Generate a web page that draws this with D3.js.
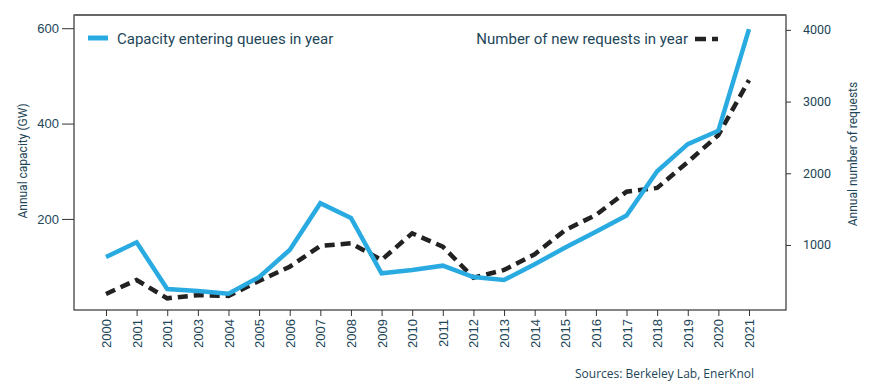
<!DOCTYPE html>
<html>
<head>
<meta charset="utf-8">
<script src="https://cdn.jsdelivr.net/npm/d3@7"></script>
<style>
  body { margin: 0; background: #fff; }
  svg { display: block; font-family: Roboto, "Liberation Sans", sans-serif; }
</style>
</head>
<body>
<svg id="chart"></svg>
<script>
// tick labels exactly as printed on the original (note the repeated 2001)
const years = ["2000", "2001", "2001", "2003", "2004", "2005", "2006", "2007", "2008", "2009", "2010",
  "2011", "2012", "2013", "2014", "2015", "2016", "2017", "2018", "2019", "2020", "2021"];
const capacityGW = [120, 151, 53, 49, 43, 78, 135, 233, 202, 86, 93, 102, 78, 72, 105, 140, 173, 207, 300, 357, 385, 598];
const newRequests = [317, 512, 256, 300, 289, 498, 697, 986, 1024, 791, 1163, 976, 544, 651, 870, 1209, 1418, 1743, 1795, 2157, 2533, 3300];
const leftTicks = [200, 400, 600];
const rightTicks = [1000, 2000, 3000, 4000];

const width = 875;
const height = 391;
const margin = { top: 15, right: 89, bottom: 81, left: 74 };
const textColor = "#1d4658";
const blue = "#29abe2";
const dark = "#222";

const svg = d3.select("#chart")
  .attr("width", width)
  .attr("height", height);

const x0 = margin.left, x1 = width - margin.right;
const y0 = margin.top, y1 = height - margin.bottom;

const x = d3.scalePoint()
  .domain(d3.range(years.length))
  .range([x0 + 32, x1 - 37]);

const yLeft = d3.scaleLinear()
  .domain([9, 640])
  .range([y1, y1 - 631 * 0.4768]);

const yRight = d3.scaleLinear()
  .domain([93, 4000])
  .range([y1, y1 - 3907 * 0.0717]);

// left axis
const leftAxis = svg.append("g")
  .attr("transform", `translate(${x0},0)`)
  .call(d3.axisLeft(yLeft).tickValues(leftTicks).tickSize(12).tickPadding(3));
leftAxis.select(".domain").remove();

// right axis
const rightAxis = svg.append("g")
  .attr("transform", `translate(${x1},0)`)
  .call(d3.axisRight(yRight).tickValues(rightTicks).tickFormat(d3.format("d")).tickSize(5).tickPadding(12));
rightAxis.select(".domain").remove();

// bottom axis
const bottomAxis = svg.append("g")
  .attr("transform", `translate(0,${y1})`)
  .call(d3.axisBottom(x).tickFormat(i => years[i]).tickSize(6).tickPadding(0));
bottomAxis.select(".domain").remove();
bottomAxis.selectAll("text")
  .attr("transform", "rotate(-90)")
  .attr("text-anchor", "end")
  .attr("x", -9)
  .attr("y", 0)
  .attr("dy", "0.35em");

svg.selectAll(".tick line").attr("stroke", "#333");
svg.selectAll(".tick text")
  .attr("fill", textColor)
  .style("font-size", "13px")
  .style("font-family", "'Liberation Sans', Arial, sans-serif");
rightAxis.selectAll(".tick text")
  .style("font-size", "12.5px")
  .style("font-family", "Roboto, sans-serif");

// frame
svg.append("rect")
  .attr("x", x0)
  .attr("y", y0)
  .attr("width", x1 - x0)
  .attr("height", y1 - y0)
  .attr("fill", "none")
  .attr("stroke", "#333")
  .attr("stroke-width", 1.2);
svg.append("line")
  .attr("x1", x0).attr("x2", x1)
  .attr("y1", y0).attr("y2", y0)
  .attr("stroke", "#666")
  .attr("stroke-width", 2);

// lines
const capLine = d3.line()
  .x((d, i) => x(i))
  .y(d => yLeft(d));
const reqLine = d3.line()
  .x((d, i) => x(i))
  .y(d => yRight(d));

svg.append("path")
  .datum(newRequests)
  .attr("d", reqLine)
  .attr("fill", "none")
  .attr("stroke", dark)
  .attr("stroke-width", 4.5)
  .attr("stroke-dasharray", "10,6");

svg.append("path")
  .datum(capacityGW)
  .attr("d", capLine)
  .attr("fill", "none")
  .attr("stroke", blue)
  .attr("stroke-width", 4.5)
  .attr("stroke-linejoin", "miter");

// legend
svg.append("line")
  .attr("x1", 88).attr("x2", 108)
  .attr("y1", 38).attr("y2", 38)
  .attr("stroke", blue)
  .attr("stroke-width", 5);
svg.append("text")
  .attr("x", 117).attr("y", 44)
  .attr("fill", textColor)
  .style("font-size", "15px")
  .text("Capacity entering queues in year");

svg.append("text")
  .attr("x", 688).attr("y", 44)
  .attr("text-anchor", "end")
  .attr("fill", textColor)
  .style("font-size", "15px")
  .text("Number of new requests in year");
svg.append("line")
  .attr("x1", 695).attr("x2", 718)
  .attr("y1", 39).attr("y2", 39)
  .attr("stroke", dark)
  .attr("stroke-width", 4.5)
  .attr("stroke-dasharray", "11,6");

// axis titles
svg.append("text")
  .attr("transform", `translate(27,${161}) rotate(-90)`)
  .attr("text-anchor", "middle")
  .attr("fill", textColor)
  .style("font-size", "12px")
  .text("Annual capacity (GW)");

svg.append("text")
  .attr("transform", `translate(857,${154}) rotate(-90)`)
  .attr("text-anchor", "middle")
  .attr("fill", textColor)
  .style("font-size", "12px")
  .text("Annual number of requests");

// source note
svg.append("text")
  .attr("x", 754).attr("y", 378)
  .attr("text-anchor", "end")
  .attr("fill", textColor)
  .style("font-size", "12px")
  .style("font-family", "'Open Sans', sans-serif")
  .text("Sources: Berkeley Lab, EnerKnol");
</script>
</body>
</html>
